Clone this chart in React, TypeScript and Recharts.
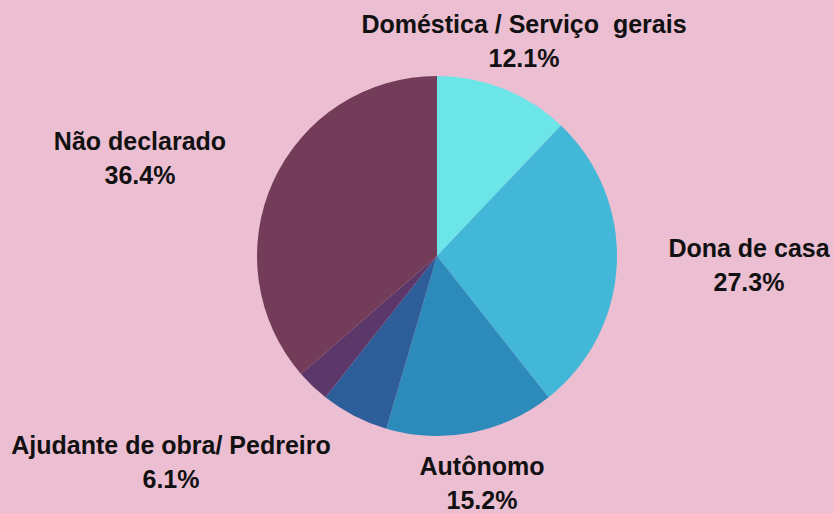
import React from "react";
import { PieChart, Pie, Cell } from "recharts";

const categories = [
  "Doméstica / Serviço  gerais",
  "Dona de casa",
  "Autônomo",
  "Ajudante de obra/ Pedreiro",
  "Outros",
  "Não declarado",
];
const percents = [12.1, 27.3, 15.2, 6.1, 3.0, 36.4];
const showLabel = [true, true, true, true, false, true];

const COLORS = ["#6ce5e8", "#42b7d7", "#2d8bbb", "#2e5e99", "#5b3869", "#733c58"];
const BG = "#ebbed2";

// label placement offsets relative to pie center (dx, baseline dy)
const LABEL_OFFSETS: [number, number][] = [
  [87, -223],
  [312, 1],
  [45, 219],
  [-266, 198],
  [0, 0],
  [-297, -106],
];

const data = categories.map((name, i) => ({ name, value: percents[i] }));

const renderLabel = (props: any) => {
  const { cx, cy, index } = props;
  if (!showLabel[index]) return null;
  const [dx, dy] = LABEL_OFFSETS[index];
  const x = cx + dx;
  const y = cy + dy;
  return (
    <text
      x={x}
      y={y}
      textAnchor="middle"
      fill="#111"
      fontFamily="'Liberation Sans', Arial, sans-serif"
      fontWeight="bold"
      fontSize={25}
      style={{ whiteSpace: "pre" }}
    >
      <tspan x={x} y={y}>{categories[index]}</tspan>
      <tspan x={x} y={y + 34}>{percents[index].toFixed(1) + "%"}</tspan>
    </text>
  );
};

export default function App() {
  return (
    <div
      style={{
        position: "fixed",
        left: 0,
        top: 0,
        width: 833,
        height: 513,
        background: BG,
      }}
    >
      <PieChart width={833} height={513} margin={{ top: 0, right: 0, bottom: 0, left: 0 }}>
        <Pie
          data={data}
          dataKey="value"
          nameKey="name"
          cx={437}
          cy={256}
          outerRadius={180}
          startAngle={90}
          endAngle={-270}
          stroke="none"
          label={renderLabel}
          labelLine={false}
          isAnimationActive={false}
        >
          {data.map((d, i) => (
            <Cell key={d.name} fill={COLORS[i]} stroke="none" />
          ))}
        </Pie>
      </PieChart>
    </div>
  );
}
